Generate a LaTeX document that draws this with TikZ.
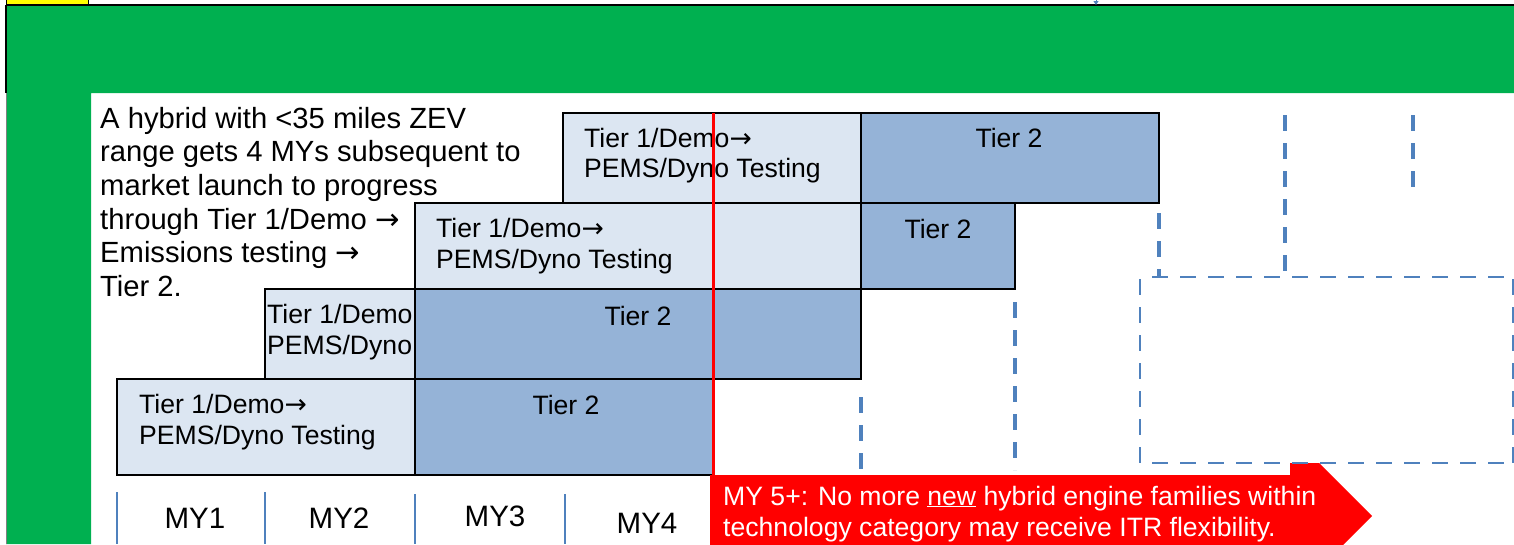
\documentclass[tikz,border=0pt]{standalone}
\usepackage{fontspec}
\setmainfont{Liberation Sans}
\newfontfamily\arrfont{DejaVu Sans}
\newcommand\rarr{{\arrfont →}}
\usetikzlibrary{arrows.meta}
\definecolor{grn}{HTML}{00B050}
\definecolor{lightb}{HTML}{DCE6F2}
\definecolor{darkb}{HTML}{95B3D7}
\definecolor{dblue}{HTML}{4F81BD}
\definecolor{myred}{HTML}{FF0000}
\definecolor{yel}{HTML}{FFFF00}
\begin{document}
\begin{tikzpicture}[x=1pt,y=-1pt,
  lightbox/.style={draw=black, line width=2pt, fill=lightb, inner sep=0pt, outer sep=0pt, anchor=north west},
  darkbox/.style={draw=black, line width=2pt, fill=darkb, inner sep=0pt, outer sep=0pt, anchor=north west},
  boxtext/.style={inner sep=0pt, align=left, anchor=base west, font=\fontsize{26.6}{30.5}\selectfont},
  tiertext/.style={inner sep=0pt, anchor=base, font=\fontsize{26.6}{30.5}\selectfont},
  guide/.style={draw=dblue, line width=3.5pt, dash pattern=on 16pt off 12pt},
  mysep/.style={draw=dblue, line width=2pt},
  mylabel/.style={inner sep=0pt, anchor=base, font=\fontsize{29.5}{33}\selectfont}
]
\useasboundingbox (0,0) rectangle (1514,544);
\clip (0,0) rectangle (1514,544);
\fill[white] (0,0) rectangle (1514,544);
% top frame
\node[draw=black, line width=1pt, fill=yel, inner sep=0pt, minimum width=82pt, minimum height=8pt, anchor=south west] (ybox) at (6,5) {};
\fill[grn] (6,5) -- (1514,5) -- (1514,93) -- (91,93) -- (91,544) -- (6,544) -- cycle;
\draw[black, line width=1.2pt] (6,5) -- (1514,5);
\draw[black, line width=1.2pt] (6,5) -- (6,93);
\draw[gray, line width=0.8pt] (6,93) -- (6,544);
\draw[dblue, line width=1pt, -{Triangle[width=5pt,length=4pt]}] (1096,-2) -- (1096,5);
% intro text (base = last line)
\node[inner sep=0pt, align=left, anchor=base west, font=\fontsize{29.2}{33.7}\selectfont] (intro) at (100,296.5)
  {A hybrid with <35 miles ZEV\\ range gets 4 MYs subsequent to\\ market launch to progress\\ through Tier 1/Demo \rarr\\ Emissions testing \rarr\\ Tier 2.};
% light boxes
\node[lightbox, minimum width=298pt, minimum height=90pt] (l4) at (563,113) {};
\node[lightbox, minimum width=446pt, minimum height=86pt] (l3) at (415,203) {};
\node[lightbox, minimum width=150pt, minimum height=90pt] (l2) at (265,289) {};
\node[lightbox, minimum width=298pt, minimum height=96pt] (l1) at (117,379) {};
% light texts (base = last line)
\node[boxtext] (t4) at (584,177.5) {Tier 1/Demo\rarr\\PEMS/Dyno Testing};
\node[boxtext] (t3) at (436,268) {Tier 1/Demo\rarr\\PEMS/Dyno Testing};
\begin{scope}
  \clip (266,290) rectangle (413,378);
  \node[boxtext] (t2) at (267,354) {Tier 1/Demo\rarr\\PEMS/Dyno Testing};
\end{scope}
\node[boxtext] (t1) at (139,444) {Tier 1/Demo\rarr\\PEMS/Dyno Testing};
% dark boxes
\node[darkbox, minimum width=298pt, minimum height=90pt] (d4) at (861,113) {};
\node[darkbox, minimum width=154pt, minimum height=86pt] (d3) at (861,203) {};
\node[darkbox, minimum width=446pt, minimum height=90pt] (d2) at (415,289) {};
\node[darkbox, minimum width=298pt, minimum height=96pt] (d1) at (415,379) {};
\node[tiertext] (k4) at (1009,147) {Tier 2};
\node[tiertext] (k3) at (938,238) {Tier 2};
\node[tiertext] (k2) at (638,325) {Tier 2};
\node[tiertext] (k1) at (566,414) {Tier 2};
% dashed guides
\draw[guide] (861,397) -- (861,470);
\draw[guide] (1015,302) -- (1015,470);
\draw[guide] (1159,213) -- (1159,277);
\draw[guide] (1285,115) -- (1285,277);
\draw[guide] (1413,115) -- (1413,187);
% red line
\draw[myred, line width=3pt] (713,113) -- (713,476);
% red arrow
\fill[myred] (710,475) -- (1290,475) -- (1290,434) -- (1372,516) -- (1290,598) -- (1290,557) -- (710,557) -- cycle;
% dashed box
\fill[white] (1140,277) rectangle (1514,463);
\draw[dblue, line width=2.5pt, dash pattern=on 16pt off 12pt] (1152,277) -- (1514,277);
\draw[dblue, line width=2.5pt, dash pattern=on 16pt off 12pt] (1152,463) -- (1514,463);
\draw[dblue, line width=1.5pt, dash pattern=on 16pt off 12pt] (1140,279) -- (1140,463);
\draw[dblue, line width=1.5pt, dash pattern=on 16pt off 12pt] (1513,279) -- (1513,463);
\node[inner sep=0pt, minimum width=373pt, minimum height=186pt, anchor=north west] (itrbox) at (1140,277) {};
% arrow text (base = last line)
\node[text=white, inner sep=0pt, align=left, anchor=base west, font=\fontsize{26.6}{31}\selectfont] (my5) at (723,536)
  {MY 5+: No more \underline{new} hybrid engine families within\\ technology category may receive ITR flexibility.};
% MY axis
\draw[mysep] (117,492) -- (117,544);
\draw[mysep] (265,492) -- (265,544);
\draw[mysep] (415,494) -- (415,544);
\draw[mysep] (565,494) -- (565,544);
\node[mylabel] (my1) at (195,528) {MY1};
\node[mylabel] (my2) at (339,528) {MY2};
\node[mylabel] (my3) at (495,526) {MY3};
\node[mylabel] (my4) at (647,533) {MY4};
\end{tikzpicture}
\end{document}
